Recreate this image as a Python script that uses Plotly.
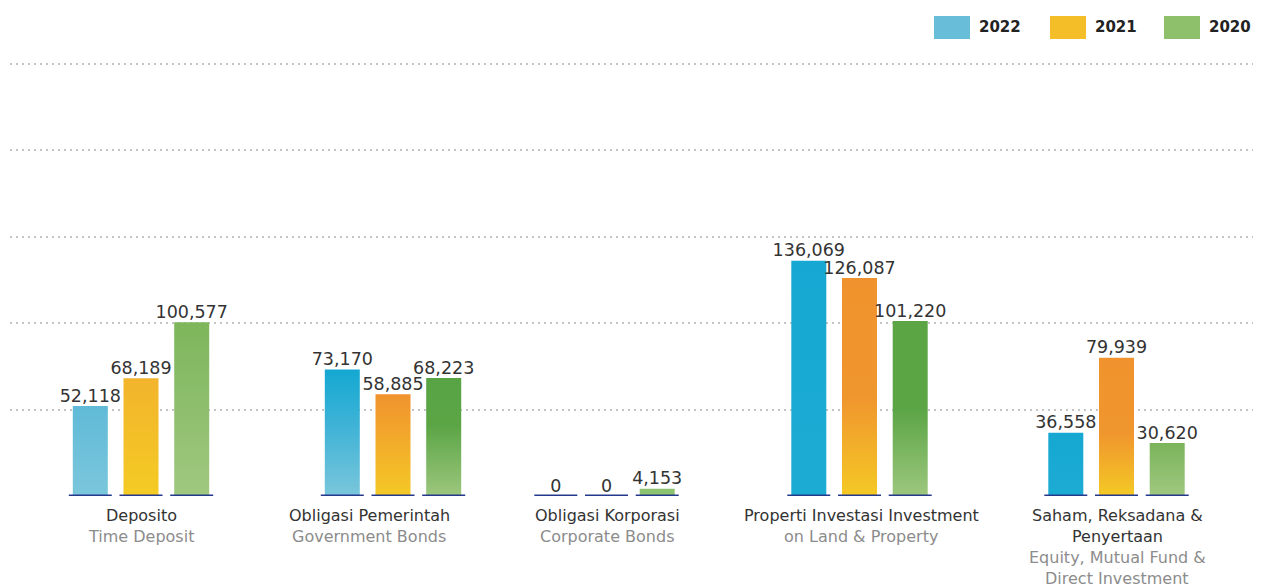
import plotly.graph_objects as go

# ---------------- data ----------------
CATEGORIES_ID = [["Deposito"], ["Obligasi Pemerintah"], ["Obligasi Korporasi"],
                 ["Properti Investasi Investment"], ["Saham, Reksadana &", "Penyertaan"]]
CATEGORIES_EN = [["Time Deposit"], ["Government Bonds"], ["Corporate Bonds"],
                 ["on Land & Property"], ["Equity, Mutual Fund &", "Direct Investment"]]
SERIES = ["2022", "2021", "2020"]
V2022 = [52118, 73170, 0, 136069, 36558]
V2021 = [68189, 58885, 0, 126087, 79939]
V2020 = [100577, 68223, 4153, 101220, 30620]
GRID_VALUES = [50000, 100000, 150000, 200000, 250000]

# ---------------- layout / style ----------------
W, H = 1261, 588
ML, MR, MT, MB = 10, 8, 56, 92
PLOT_H = H - MT - MB
Y_MAX = 250000 * PLOT_H / 432.0
GROUP_X = [141, 393, 606.5, 859.5, 1116.5]      # group centres (px units on x axis)
LABEL_X = [141, 369, 607, 861, 1117]
OFFSET = 50.7
BAR_W = 35
BASE_W = 43
FONT = "DejaVu Sans"

def cs(*pairs):
    return [list(p) for p in pairs]

BLUE_LIGHT = cs((0, '#7BC7DC'), (1, '#60BAD7'))
BLUE_GRAD = cs((0, '#7AC6DB'), (0.55, '#3FB3D6'), (1, '#14A8D2'))
BLUE_SOLID = cs((0, '#1CABD3'), (1, '#16A8D2'))
YEL_LIGHT = cs((0, '#F4CB24'), (1, '#F2B42C'))
ORG_GRAD = cs((0, '#F4C926'), (1, '#F0922E'))
ORG_LOW = cs((0, '#F4C925'), (0.45, '#F0962E'), (1, '#F0932E'))
GRN_LIGHT = cs((0, '#A0C880'), (1, '#7DB65B'))
GRN_GRAD = cs((0, '#9DC77E'), (0.6, '#5BA545'), (1, '#58A444'))
GRN_LOW = cs((0, '#9DC77E'), (0.5, '#5BA545'), (1, '#5BA545'))
GRN_SAHAM = cs((0, '#A0C880'), (1, '#7BB45A'))
GRN_FLAT = cs((0, '#8DC26F'), (1, '#8DC26F'))

STYLE = [  # [group][series]
    [BLUE_LIGHT, YEL_LIGHT, GRN_LIGHT],
    [BLUE_GRAD, ORG_GRAD, GRN_GRAD],
    [BLUE_SOLID, ORG_GRAD, GRN_FLAT],
    [BLUE_SOLID, ORG_LOW, GRN_LOW],
    [BLUE_SOLID, ORG_LOW, GRN_SAHAM],
]
LEGEND_COLORS = ['#68BED9', '#F3BE28', '#8EC06C']

fig = go.Figure()
values = [V2022, V2021, V2020]

# bars
for s, vals in enumerate(values):
    for g, v in enumerate(vals):
        cx = GROUP_X[g] + (s - 1) * OFFSET
        if v > 0:
            fig.add_trace(go.Scatter(
                x=[cx - BAR_W / 2, cx + BAR_W / 2, cx + BAR_W / 2, cx - BAR_W / 2, cx - BAR_W / 2],
                y=[0, 0, v, v, 0],
                mode='lines', fill='toself', line=dict(width=0, color='rgba(0,0,0,0)'),
                fillgradient=dict(type='vertical', colorscale=STYLE[g][s], start=0, stop=v),
                hoverinfo='skip', showlegend=False))

# baselines
for s, vals in enumerate(values):
    for g, v in enumerate(vals):
        cx = GROUP_X[g] + (s - 1) * OFFSET
        fig.add_trace(go.Scatter(
            x=[cx - BASE_W / 2, cx + BASE_W / 2], y=[0, 0], mode='lines',
            line=dict(color='#24398C', width=3), hoverinfo='skip', showlegend=False))

# value labels
for s, vals in enumerate(values):
    xs = [GROUP_X[g] + (s - 1) * OFFSET for g in range(len(vals))]
    fig.add_trace(go.Scatter(
        x=xs, y=vals, mode='text', text=[f"{v:,}" for v in vals],
        textposition='top center', textfont=dict(family=FONT, size=17.5, color='#333333'),
        hoverinfo='skip', showlegend=False, cliponaxis=False))

def py(px):
    return (H - MB - px) / PLOT_H

annotations = []
for g in range(len(GROUP_X)):
    lines = [(t, '#333333') for t in CATEGORIES_ID[g]] + [(t, '#8C8C8C') for t in CATEGORIES_EN[g]]
    for i, (t, c) in enumerate(lines):
        annotations.append(dict(x=LABEL_X[g], xref='x', y=py(515 + 21 * i), yref='paper',
                                text=t, showarrow=False, xanchor='center', yanchor='middle',
                                font=dict(family=FONT, size=16, color=c)))

# legend (manual)
shapes = []
LEG_X = [934, 1050, 1164]
for i, name in enumerate(SERIES):
    shapes.append(dict(type='rect', xref='x', yref='paper', x0=LEG_X[i], x1=LEG_X[i] + 36,
                       y0=py(39), y1=py(16), fillcolor=LEGEND_COLORS[i], line=dict(width=0)))
    annotations.append(dict(x=LEG_X[i] + 43, xref='x', y=py(27), yref='paper', text=name,
                            showarrow=False, xanchor='left', yanchor='middle',
                            font=dict(family=FONT, size=15, color='#222222', weight=600)))

fig.update_layout(
    width=W, height=H, margin=dict(l=ML, r=MR, t=MT, b=MB),
    paper_bgcolor='white', plot_bgcolor='white', showlegend=False,
    xaxis=dict(range=[ML, W - MR], showgrid=False, zeroline=False, showticklabels=False,
               ticks='', fixedrange=True),
    yaxis=dict(range=[0, Y_MAX], tickvals=GRID_VALUES, showticklabels=False, zeroline=False,
               showgrid=True, gridcolor='#C4C4C4', gridwidth=2, griddash='2px,4px', ticks='',
               fixedrange=True),
    annotations=annotations, shapes=shapes,
)

fig.write_html("out.html")
